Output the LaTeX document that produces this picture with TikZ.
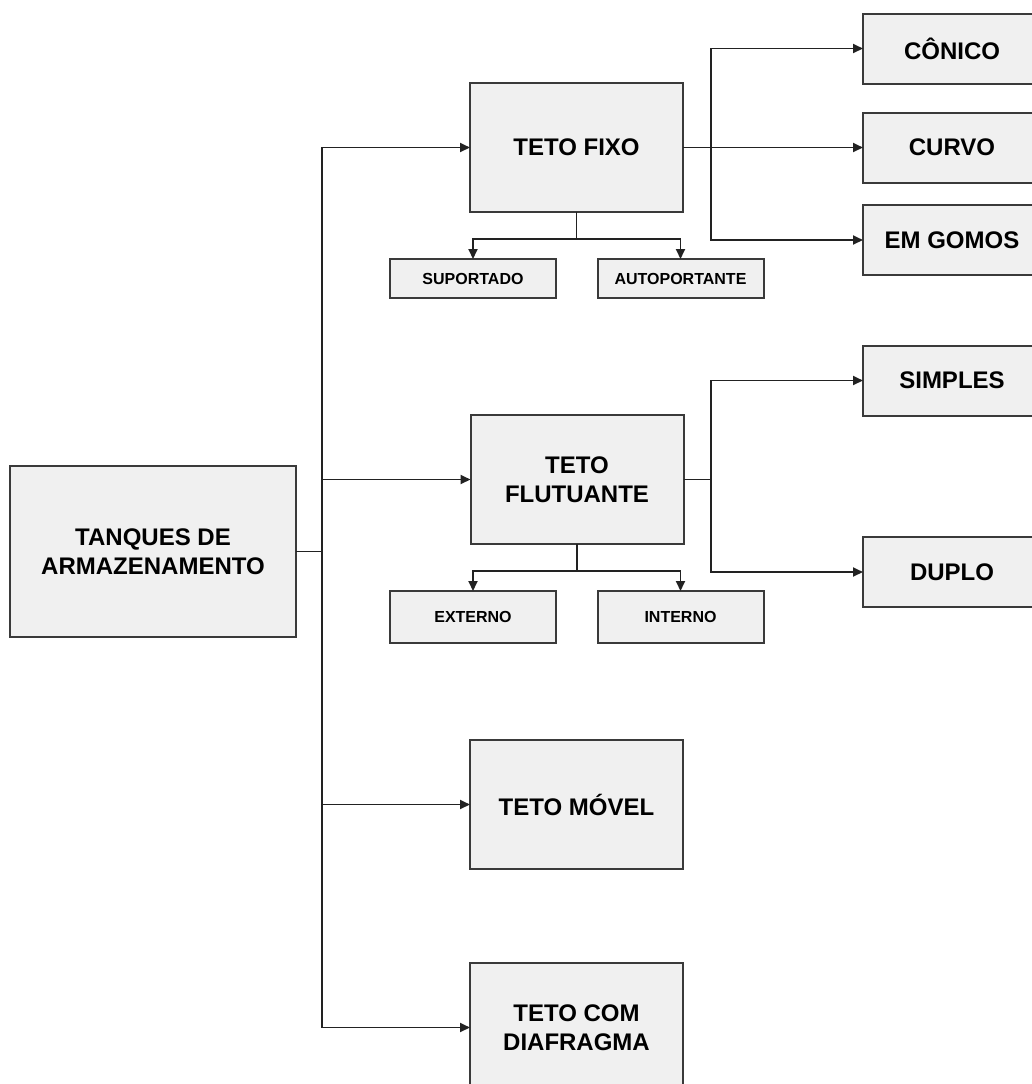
\documentclass[tikz,border=0pt]{standalone}
\usepackage{fontspec}
\setmainfont{Liberation Sans}
\usetikzlibrary{arrows.meta}
\definecolor{TKFill}{HTML}{F0F0F0}
\definecolor{TKEdge}{HTML}{3A3A3A}
\definecolor{TKLine}{HTML}{222222}

\begin{document}
\begin{tikzpicture}[x=0.5pt,y=-0.5pt,
  box/.style={draw=TKEdge,fill=TKFill,line width=1pt,inner sep=0pt,outer sep=0pt,
    align=center,font=\fontsize{12}{14.5}\selectfont\bfseries},
  bigbox/.style={box,minimum width=106.5pt,minimum height=64.5pt},
  sidebox/.style={box,minimum width=89pt,minimum height=35pt},
  smallbox/.style={box,minimum width=83pt,font=\fontsize{8}{10}\selectfont\bfseries},
  link/.style={TKLine,line width=.9pt},
  arr/.style={link,-{Triangle[length=5pt,width=4.5pt]}}]
\path[use as bounding box] (0,0) rectangle (1032,1084);
\fill[white] (0,0) rectangle (1032,1084);
% main box and the four roof types
\node[box,minimum width=143pt,minimum height=85.5pt] (tanques) at (153,551.5) {TANQUES DE\\ARMAZENAMENTO};
\node[bigbox] (fixo) at (576.5,147.5) {TETO FIXO};
\node[bigbox] (flut) at (577,479.5) {TETO\\FLUTUANTE};
\node[bigbox] (movel) at (576.5,804.5) {TETO MÓVEL};
\node[bigbox] (diafr) at (576.5,1027.5) {TETO COM\\DIAFRAGMA};
% small boxes below
\node[smallbox,minimum height=19.5pt] (suport) at (473,278.5) {SUPORTADO};
\node[smallbox,minimum height=19.5pt] (autop) at (680.5,278.5) {AUTOPORTANTE};
\node[smallbox,minimum height=26pt] (externo) at (473,617) {EXTERNO};
\node[smallbox,minimum height=26pt] (interno) at (680.5,617) {INTERNO};
% boxes on the right (cut by the page edge)
\node[sidebox] (conico) at (952,48.5) {CÔNICO};
\node[sidebox] (curvo) at (952,147.5) {CURVO};
\node[sidebox] (gomos) at (952,240) {EM GOMOS};
\node[sidebox] (simples) at (952,380.5) {SIMPLES};
\node[sidebox] (duplo) at (952,572) {DUPLO};
% connectors
\coordinate (trunk) at (322,551.5);
\coordinate (fixoj) at (711,147.5);
\coordinate (flutj) at (711,479.5);
\draw[link] (tanques.east) -- (trunk);
\draw[arr] (trunk) |- (fixo.west);
\draw[arr] (trunk) |- (flut.west);
\draw[arr] (trunk) |- (movel.west);
\draw[arr] (trunk) |- (diafr.west);
\draw[arr] (fixo.south) -- ++(0,27) -| (suport.north);
\draw[arr] (fixo.south) -- ++(0,27) -| (autop.north);
\draw[arr] (flut.south) -- ++(0,27) -| (externo.north);
\draw[arr] (flut.south) -- ++(0,27) -| (interno.north);
\draw[link] (fixo.east) -- (fixoj);
\draw[arr] (fixoj) |- (conico.west);
\draw[arr] (fixoj) -- (curvo.west);
\draw[arr] (fixoj) |- (gomos.west);
\draw[link] (flut.east) -- (flutj);
\draw[arr] (flutj) |- (simples.west);
\draw[arr] (flutj) |- (duplo.west);
\end{tikzpicture}
\end{document}
